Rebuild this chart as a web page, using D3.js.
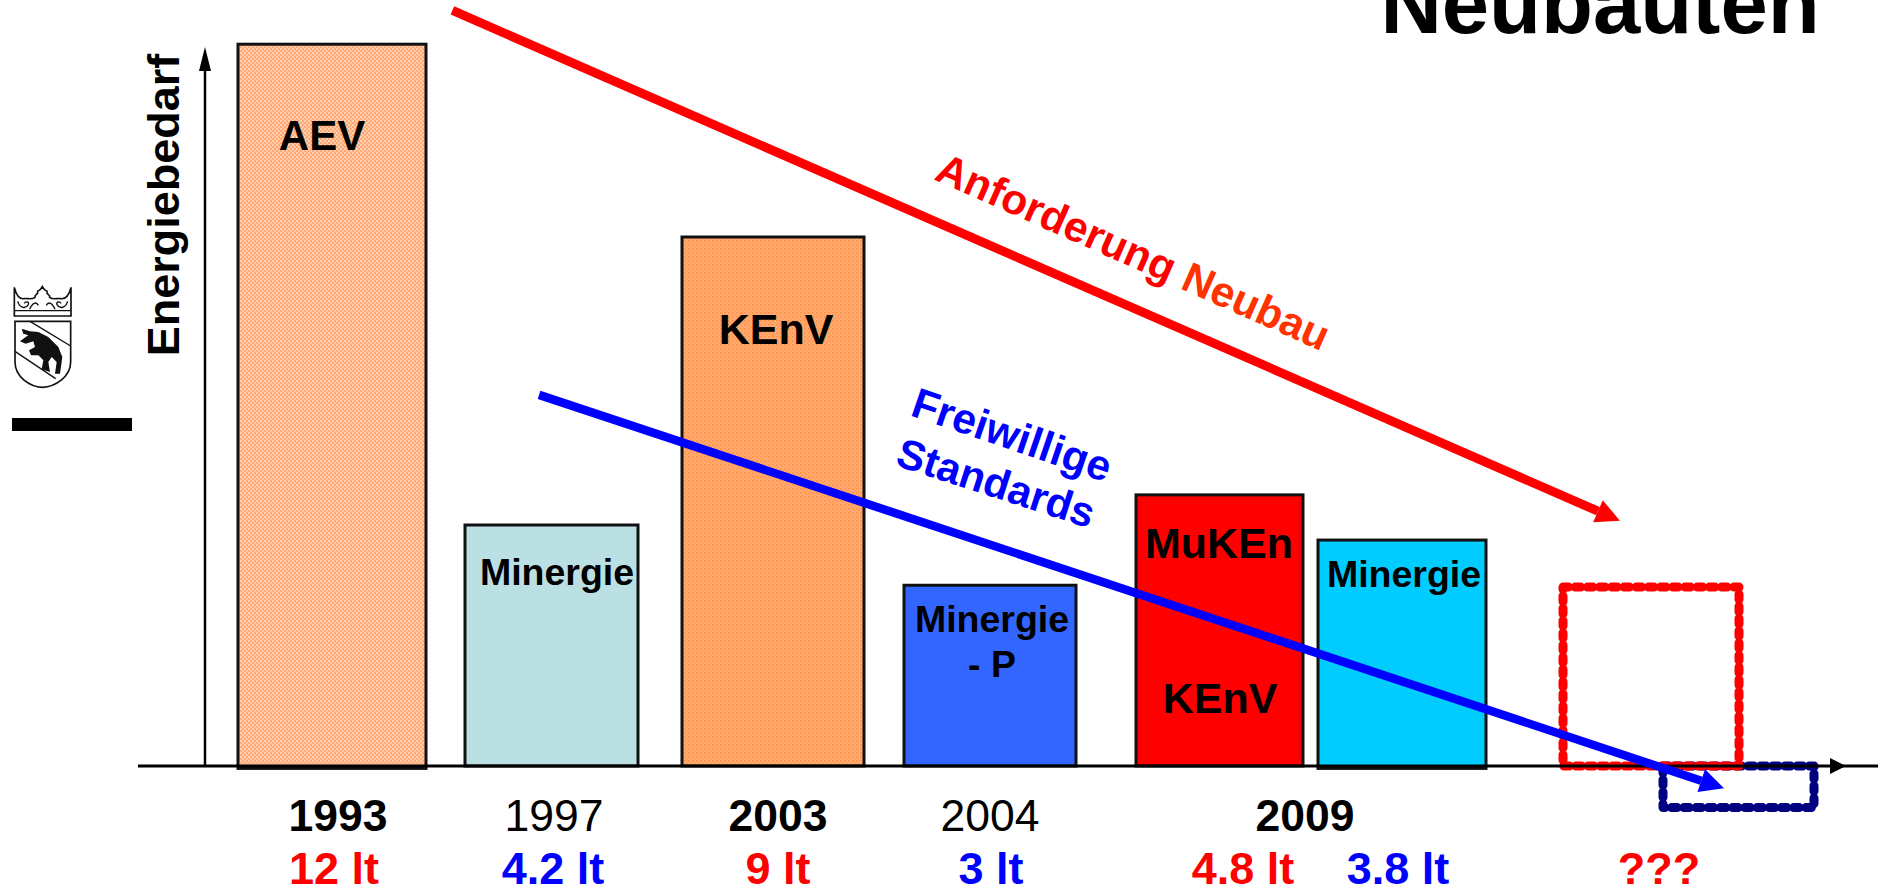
<!DOCTYPE html>
<html lang="de">
<head>
<meta charset="utf-8">
<title>Neubauten</title>
<script src="https://cdn.jsdelivr.net/npm/d3@7"></script>
<style>
html,body{margin:0;padding:0;background:#fff;overflow:hidden}
svg{display:block}
text{font-family:"Liberation Sans",Arial,sans-serif;font-weight:700}
</style>
</head>
<body>
<svg id="chart" width="1881" height="890"></svg>
<script>
// ---------- data ----------
const barKeys      = ["AEV 1993", "Minergie 1997", "KEnV 2003", "Minergie-P 2004", "MuKEn 2009", "Minergie 2009"];
const barHeights   = [11.98, 4.0, 8.78, 3.0, 4.5, 3.75];          // height as drawn, in litres
const barFloors    = [-0.04, 0, 0, 0, 0, -0.04];
const barFills     = ["url(#texLight)", "#BBE0E3", "url(#texDark)", "#3366FF", "#FF0000", "#00CCFF"];
const yearLabels   = ["1993", "1997", "2003", "2004", "2009"];
const yearBold     = [true, false, true, false, true];
const litreLabels  = ["12 lt", "4.2 lt", "9 lt", "3 lt", "4.8 lt", "3.8 lt", "???"];
const litreColours = ["#FF0000", "#0000FF", "#FF0000", "#0000FF", "#FF0000", "#0000FF", "#FF0000"];
const futureKeys   = ["red target", "navy target"];
const futureHigh   = [2.97, 0];
const futureLow    = [0, -0.69];
const redTrendX    = [18.07, 85.17];
const redTrendY    = [12.54, 4.07];
const blueTrendX   = [23.05, 91.15];
const blueTrendY   = [6.16, -0.37];

// ---------- scales ----------
const svg = d3.select("#chart");
const y = d3.scaleLinear().domain([0, 12]).range([766, 43]);
const axisX = d3.scaleLinear().domain([0, 100]).range([138, 1878]);
const left  = d3.scaleOrdinal().domain(barKeys).range([238, 465, 682, 904, 1136, 1318]);
const right = d3.scaleOrdinal().domain(barKeys).range([426, 638, 864, 1076, 1303, 1486]);
const fLeft  = d3.scaleOrdinal().domain(futureKeys).range([1563, 1663]);
const fRight = d3.scaleOrdinal().domain(futureKeys).range([1739, 1814]);
const yearCentre  = d3.scaleOrdinal().domain(yearLabels).range([338, 554, 778, 990, 1305]);
const litreCentre = d3.scaleOrdinal().domain(litreLabels).range([334, 553, 778, 991, 1243, 1398, 1659]);

// ---------- textures ----------
const defs = svg.append("defs");
const light = defs.append("pattern").attr("id", "texLight").attr("width", 4).attr("height", 4).attr("patternUnits", "userSpaceOnUse");
light.append("rect").attr("width", 4).attr("height", 4).attr("fill", "#FFA873");
light.append("rect").attr("width", 2).attr("height", 2).attr("fill", "#FFD2B4");
light.append("rect").attr("x", 2).attr("y", 2).attr("width", 2).attr("height", 2).attr("fill", "#FFC8A6");
const dark = defs.append("pattern").attr("id", "texDark").attr("width", 4).attr("height", 4).attr("patternUnits", "userSpaceOnUse");
dark.append("rect").attr("width", 4).attr("height", 4).attr("fill", "#FFAA70");
dark.append("rect").attr("width", 1.5).attr("height", 1.5).attr("fill", "#FF8C42");
dark.append("rect").attr("x", 2).attr("y", 2).attr("width", 1.5).attr("height", 1.5).attr("fill", "#FF9A55");

// ---------- bars ----------
svg.append("g").selectAll("rect").data(barKeys).join("rect")
  .attr("x", d => left(d))
  .attr("width", d => right(d) - left(d))
  .attr("y", (d, i) => y(barHeights[i]))
  .attr("height", (d, i) => y(barFloors[i]) - y(barHeights[i]))
  .attr("fill", (d, i) => barFills[i])
  .attr("stroke", "#111")
  .attr("stroke-width", 3);

// ---------- future dashed boxes (navy under red) ----------
const futureOrder = [1, 0];
svg.append("g").selectAll("rect").data(futureOrder).join("rect")
  .attr("x", i => fLeft(futureKeys[i]))
  .attr("width", i => fRight(futureKeys[i]) - fLeft(futureKeys[i]))
  .attr("y", i => y(futureHigh[i]))
  .attr("height", i => y(futureLow[i]) - y(futureHigh[i]))
  .attr("fill", "none")
  .attr("stroke", i => i === 0 ? "#FF0000" : "#000080")
  .attr("stroke-width", 9)
  .attr("stroke-linejoin", "round")
  .attr("stroke-linecap", "round")
  .attr("stroke-dasharray", "5.5 6.7");

// ---------- axes ----------
const axes = svg.append("g").attr("fill", "#000").attr("stroke", "#000");
axes.append("line").attr("x1", axisX(0)).attr("x2", axisX(100)).attr("y1", y(0)).attr("y2", y(0)).attr("stroke-width", 3);
axes.append("path").attr("stroke", "none").attr("d", d3.line()([[1830, y(0) - 8], [1846, y(0)], [1830, y(0) + 8]]) + "Z");
axes.append("line").attr("x1", 205).attr("x2", 205).attr("y1", y(0)).attr("y2", 60).attr("stroke-width", 2.5);
axes.append("path").attr("stroke", "none").attr("d", d3.line()([[199, 71], [205, 47], [211, 71]]) + "Z");

// ---------- trend arrows ----------
function arrow(xs, ys, colour, width) {
  const x0 = axisX(xs[0]), y0 = y(ys[0]), x1 = axisX(xs[1]), y1 = y(ys[1]);
  const len = Math.hypot(x1 - x0, y1 - y0), ux = (x1 - x0) / len, uy = (y1 - y0) / len;
  const headLen = 24, headHalf = 12;
  const bx = x1 - ux * headLen, by = y1 - uy * headLen;
  const g = svg.append("g");
  g.append("line").attr("x1", x0).attr("y1", y0).attr("x2", bx).attr("y2", by)
    .attr("stroke", colour).attr("stroke-width", width);
  g.append("path").attr("fill", colour)
    .attr("d", d3.line()([[bx - uy * headHalf, by + ux * headHalf], [x1, y1], [bx + uy * headHalf, by - ux * headHalf]]) + "Z");
}
arrow(redTrendX, redTrendY, "#FF0000", 9);
arrow(blueTrendX, blueTrendY, "#0000FF", 8.5);

// ---------- year and litre labels ----------
svg.append("g").selectAll("text").data(yearLabels).join("text")
  .attr("x", d => yearCentre(d)).attr("y", 831)
  .attr("text-anchor", "middle").attr("font-size", 44.5)
  .style("font-weight", (d, i) => yearBold[i] ? 700 : 400)
  .text(d => d);
svg.append("g").selectAll("text").data(litreLabels).join("text")
  .attr("x", d => litreCentre(d)).attr("y", 884)
  .attr("text-anchor", "middle").attr("font-size", 45)
  .attr("fill", (d, i) => litreColours[i])
  .text(d => d);

// ---------- labels inside the bars ----------
const insideText  = ["AEV", "Minergie", "KEnV", "Minergie", "- P", "MuKEn", "KEnV", "Minergie"];
const insideX     = [322, 557, 776, 992, 992, 1219, 1220, 1404];
const insideY     = [150, 585, 344, 632, 677, 558, 713, 587];
const insideSize  = [42, 37.5, 43, 37.5, 37.5, 43, 43, 37.5];
svg.append("g").selectAll("text").data(insideText).join("text")
  .attr("x", (d, i) => insideX[i]).attr("y", (d, i) => insideY[i])
  .attr("text-anchor", "middle").attr("font-size", (d, i) => insideSize[i])
  .text(d => d);

// ---------- title and axis title ----------
svg.append("text").attr("x", 1600).attr("y", 33).attr("text-anchor", "middle").attr("font-size", 85).text("Neubauten");
svg.append("text").attr("transform", "translate(179,205) rotate(-90)").attr("text-anchor", "middle").attr("font-size", 45).text("Energiebedarf");

// ---------- slanted annotations ----------
const anno = svg.append("text").attr("transform", "translate(933,179) rotate(23.9)").attr("font-size", 42.5);
anno.append("tspan").attr("fill", "#FF0000").text("Anforderung ");
anno.append("tspan").attr("fill", "#FF3300").text("Neubau");
svg.append("text").attr("transform", "translate(909,415) rotate(18.9)").attr("font-size", 42.5).attr("fill", "#0000FF").text("Freiwillige");
svg.append("text").attr("transform", "translate(894,465) rotate(18)").attr("font-size", 42).attr("fill", "#0000FF").text("Standards");

// ---------- canton logo ----------
const logo = svg.append("g").attr("transform", "translate(5,282) scale(0.3333)")
  .attr("fill", "none").attr("stroke", "#111").attr("stroke-width", 5);
logo.append("path").attr("d", "M28,16 C34,40 42,52 56,50 C68,48 80,54 90,46 C88,36 100,40 98,28 C104,26 108,22 112,14 C116,22 120,26 126,28 C124,40 136,36 134,46 C144,54 156,48 168,50 C182,52 192,40 198,16 L198,102 L28,102 Z");
logo.append("path").attr("d", "M28,86 L198,86").attr("stroke-width", 4);
logo.append("path").attr("stroke-width", 4).attr("d", "M38,58 C44,78 62,82 70,68 C74,60 62,56 58,64 M74,82 C82,62 94,58 100,70 M124,70 C130,58 142,62 150,82 M188,58 C182,78 164,82 156,68 C152,60 164,56 168,64");
logo.append("path").attr("d", "M30,118 L197,118 L197,240 C197,285 150,314 112,316 C75,314 30,285 30,240 Z");
logo.append("path").attr("d", "M75,118 L197,192 M30,208 L152,290").attr("stroke-width", 4);
logo.append("path").attr("fill", "#111").attr("stroke", "none")
  .attr("d", "M50,140 L75,148 L100,150 L130,165 L160,195 L172,225 L165,275 L150,275 L155,240 L140,225 L130,240 L135,270 L110,262 L115,235 L100,220 L78,220 L72,205 L90,195 L85,178 L62,185 L45,178 L62,165 L70,160 L55,155 Z");
svg.append("rect").attr("x", 12).attr("y", 418).attr("width", 120).attr("height", 13).attr("fill", "#000");
</script>
</body>
</html>
